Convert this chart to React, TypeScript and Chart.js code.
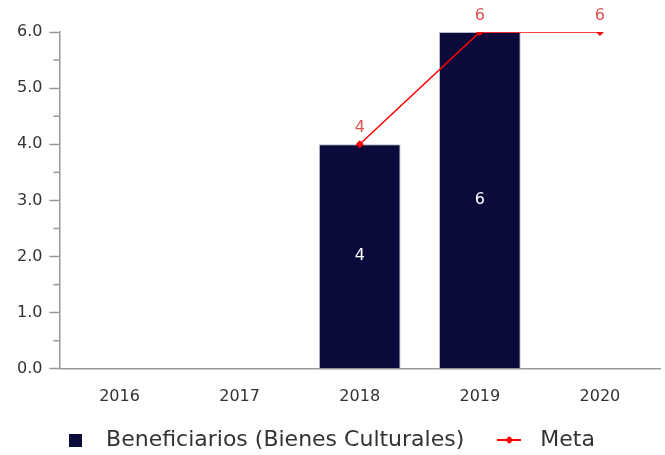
import React, { useEffect, useRef } from "react";
import { Chart, registerables } from "chart.js";

Chart.register(...registerables);

const categories = ["2016", "2017", "2018", "2019", "2020"];
const beneficiarios = [null, null, 4, 6, null];
const meta = [null, null, 4, 6, 6];
const yTicks = [0, 1, 2, 3, 4, 5, 6];

const BAR_COLOR = "#0b0b3b";
const LINE_COLOR = "#ff0000";
const LABEL_RED = "#d9534f";
const FONT = "'DejaVu Sans', sans-serif";

function makeLegendLineIcon() {
  const c = document.createElement("canvas");
  c.width = 24;
  c.height = 12;
  const ctx = c.getContext("2d")!;
  ctx.strokeStyle = LINE_COLOR;
  ctx.lineWidth = 2;
  ctx.beginPath();
  ctx.moveTo(0, 6);
  ctx.lineTo(24, 6);
  ctx.stroke();
  ctx.fillStyle = LINE_COLOR;
  ctx.beginPath();
  ctx.moveTo(12, 2);
  ctx.lineTo(16, 6);
  ctx.lineTo(12, 10);
  ctx.lineTo(8, 6);
  ctx.closePath();
  ctx.fill();
  return c;
}

function makeLegendSquare() {
  const c = document.createElement("canvas");
  c.width = 13;
  c.height = 13;
  const ctx = c.getContext("2d")!;
  ctx.fillStyle = BAR_COLOR;
  ctx.fillRect(0, 0, 13, 13);
  return c;
}

const labelsPlugin = {
  id: "valueLabels",
  afterLayout(chart: any) {
    if (chart.legend) {
      chart.legend.left -= 10;
      chart.legend.right -= 10;
    }
  },
  afterDatasetsDraw(chart: any) {
    const ctx = chart.ctx;
    ctx.save();
    ctx.font = `16px ${FONT}`;
    ctx.textAlign = "center";
    const barMeta = chart.getDatasetMeta(0);
    barMeta.data.forEach((el: any, i: number) => {
      const v = beneficiarios[i];
      if (v == null) return;
      const { x, y, base } = el.getProps(["x", "y", "base"], true);
      ctx.fillStyle = "#ffffff";
      ctx.textBaseline = "middle";
      ctx.fillText(String(v), x, (y + base) / 2);
    });
    const lineMeta = chart.getDatasetMeta(1);
    lineMeta.data.forEach((el: any, i: number) => {
      const v = meta[i];
      if (v == null) return;
      const { x, y } = el.getProps(["x", "y"], true);
      ctx.fillStyle = LABEL_RED;
      ctx.textBaseline = "bottom";
      ctx.fillText(String(v), x, y - 8);
    });
    ctx.restore();
  },
  afterDraw(chart: any) {
    const ys = chart.scales.y;
    const ctx = chart.ctx;
    ctx.save();
    ctx.strokeStyle = "#999999";
    ctx.lineWidth = 1.5;
    for (let v = 0.5; v < 6; v += 1) {
      const py = ys.getPixelForValue(v);
      ctx.beginPath();
      ctx.moveTo(ys.right - 6, py);
      ctx.lineTo(ys.right, py);
      ctx.stroke();
    }
    ctx.restore();
  },
};

export default function App() {
  const ref = useRef<HTMLCanvasElement>(null);
  useEffect(() => {
    document.body.style.margin = "0";
    const sq = makeLegendSquare();
    const ln = makeLegendLineIcon();
    const chart = new Chart(ref.current!, {
      type: "bar",
      plugins: [labelsPlugin],
      data: {
        labels: categories,
        datasets: [
          {
            type: "bar",
            label: "Beneficiarios (Bienes Culturales)",
            data: beneficiarios as any,
            backgroundColor: BAR_COLOR,
            borderColor: "#b8b8c8",
            borderWidth: 1,
            categoryPercentage: 0.8,
            barPercentage: 0.85,
            order: 2,
          },
          {
            type: "line",
            label: "Meta",
            data: meta as any,
            borderColor: LINE_COLOR,
            backgroundColor: LINE_COLOR,
            borderWidth: 1.5,
            pointStyle: "rectRot",
            pointRadius: 4,
            pointBorderWidth: 0,
            spanGaps: false,
            order: 1,
          },
        ],
      },
      options: {
        animation: false,
        responsive: false,
        maintainAspectRatio: false,
        layout: { padding: { top: 32, right: 5, left: 10, bottom: -6 } },
        plugins: {
          tooltip: { enabled: false },
          legend: {
            position: "bottom",
            labels: {
              usePointStyle: true,
              pointStyleWidth: 40,
              color: "#333333",
              font: { family: FONT, size: 22 },
              padding: 25,
              generateLabels: (c: any) =>
                c.data.datasets.map((d: any, i: number) => ({
                  text: d.label,
                  pointStyle: i === 0 ? sq : ln,
                  fillStyle: i === 0 ? BAR_COLOR : LINE_COLOR,
                  strokeStyle: "transparent",
                  lineWidth: 0,
                  datasetIndex: i,
                  hidden: false,
                  fontColor: "#333333",
                })),
            },
          },
        },
        scales: {
          x: {
            grid: { display: false, drawTicks: false },
            border: { color: "#999999", width: 1.5 },
            ticks: {
              color: "#333333",
              font: { family: FONT, size: 16 },
              padding: 18,
            },
            afterFit: (s: any) => {
              s.height -= 20;
            },
          },
          y: {
            min: 0,
            max: 6,
            afterBuildTicks: (s: any) => {
              s.ticks = yTicks.map((v) => ({ value: v }));
            },
            grid: {
              drawOnChartArea: false,
              tickLength: 10,
              tickColor: "#999999",
              tickWidth: 1.5,
            },
            border: { color: "#999999", width: 1.5 },
            ticks: {
              color: "#333333",
              font: { family: FONT, size: 16 },
              padding: 7,
              callback: (v: any) => Number(v).toFixed(1),
            },
          },
        },
      },
    });
    return () => chart.destroy();
  }, []);
  return <canvas ref={ref} width={665} height={455} style={{ display: "block" }} />;
}
